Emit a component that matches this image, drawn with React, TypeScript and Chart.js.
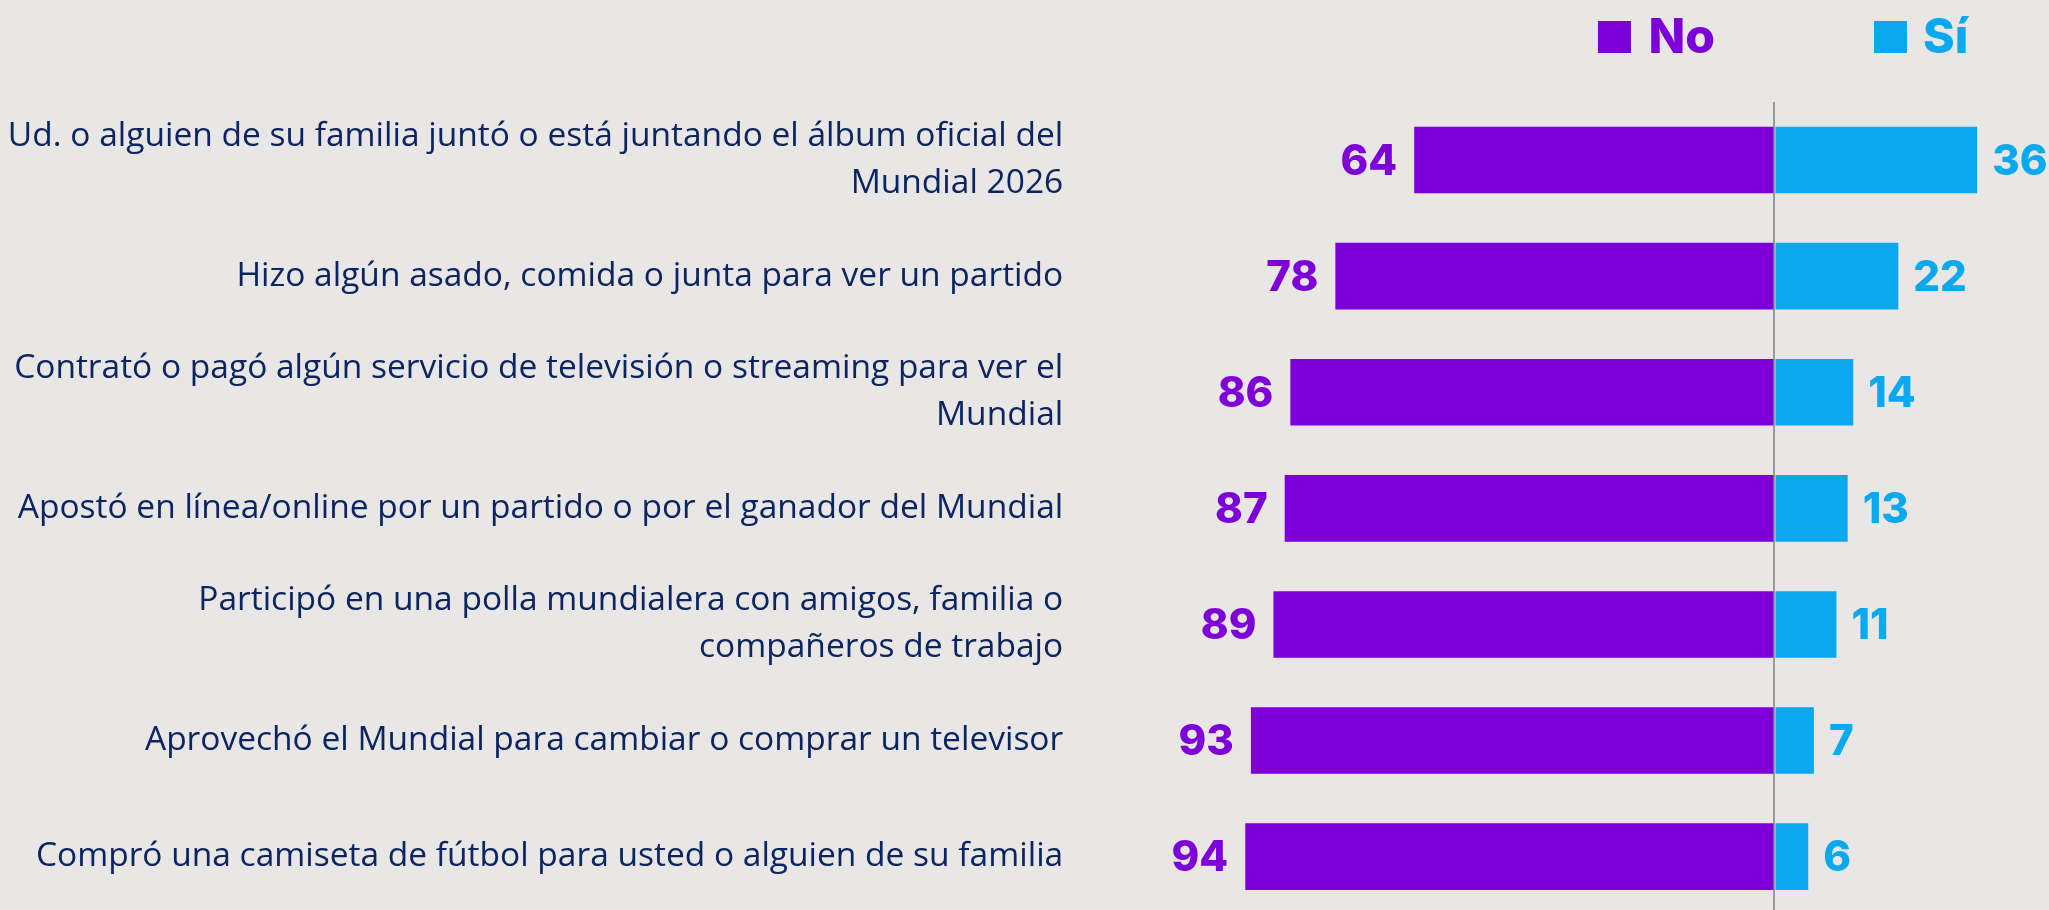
import React, { useEffect, useRef } from 'react';
import { Chart, registerables } from 'chart.js';

Chart.register(...registerables);

const categories: (string | string[])[] = [
  ['Ud. o alguien de su familia juntó o está juntando el álbum oficial del', 'Mundial 2026'],
  'Hizo algún asado, comida o junta para ver un partido',
  ['Contrató o pagó algún servicio de televisión o streaming para ver el', 'Mundial'],
  'Apostó en línea/online por un partido o por el ganador del Mundial',
  ['Participó en una polla mundialera con amigos, familia o', 'compañeros de trabajo'],
  'Aprovechó el Mundial para cambiar o comprar un televisor',
  'Compró una camiseta de fútbol para usted o alguien de su familia',
];
const noValues = [64, 78, 86, 87, 89, 93, 94];
const siValues = [36, 22, 14, 13, 11, 7, 6];
const seriesLabels = ['No', 'Sí'];

const PURPLE = '#7D00D9';
const BLUE = '#0AA8EE';
const NAVY = '#0C2461';
const BG = '#E8E7E5';
const LABEL_FONT = '"Open Sans", sans-serif';
const BOLD_FONT = 'Inter, "Noto Sans", sans-serif';

const valueLabelPlugin = {
  id: 'valueLabels',
  afterDatasetsDraw(chart: any) {
    const ctx = chart.ctx;
    ctx.save();
    ctx.font = `800 42px ${BOLD_FONT}`;
    ctx.textBaseline = 'middle';
    chart.data.datasets.forEach((ds: any, di: number) => {
      const meta = chart.getDatasetMeta(di);
      meta.data.forEach((el: any, i: number) => {
        const v = Math.abs(ds.data[i]);
        ctx.fillStyle = ds.backgroundColor;
        if (di === 0) {
          ctx.textAlign = 'right';
          ctx.fillText(String(v), el.x - 17, el.y + 2);
        } else {
          ctx.textAlign = 'left';
          ctx.fillText(String(v), el.x + 15, el.y + 2);
        }
      });
    });
    ctx.restore();
  },
};

const legendPlugin = {
  id: 'customLegend',
  afterDraw(chart: any) {
    const ctx = chart.ctx;
    const zero = chart.scales.x.getPixelForValue(0);
    const cy = 37;
    const items = [
      { label: seriesLabels[0], color: PURPLE, box: zero - 176.5, text: zero - 126 },
      { label: seriesLabels[1], color: BLUE, box: zero + 99.5, text: zero + 148.5 },
    ];
    ctx.save();
    ctx.font = `800 48px ${BOLD_FONT}`;
    ctx.textBaseline = 'middle';
    ctx.textAlign = 'left';
    items.forEach((it) => {
      ctx.fillStyle = it.color;
      ctx.fillRect(it.box, cy - 16, 33, 32);
      ctx.fillText(it.label, it.text, cy + 2);
    });
    ctx.restore();
  },
};

export default function App() {
  const ref = useRef<HTMLCanvasElement | null>(null);

  useEffect(() => {
    if (!ref.current) return;
    const chart = new Chart(ref.current, {
      type: 'bar',
      data: {
        labels: categories,
        datasets: [
          {
            label: seriesLabels[0],
            data: noValues.map((v) => -v),
            backgroundColor: PURPLE,
            borderWidth: 0,
            categoryPercentage: 0.574,
            barPercentage: 1,
          },
          {
            label: seriesLabels[1],
            data: siValues,
            backgroundColor: BLUE,
            borderWidth: 0,
            categoryPercentage: 0.574,
            barPercentage: 1,
          },
        ],
      },
      options: {
        indexAxis: 'y',
        responsive: false,
        animation: false,
        layout: { padding: { top: 102, bottom: 5.3, left: 0, right: 4.3 } },
        plugins: {
          legend: { display: false },
          tooltip: { enabled: false },
        },
        scales: {
          x: {
            stacked: true,
            min: -110,
            max: 48,
            ticks: { display: false, stepSize: 10 },
            border: { display: false },
            grid: {
              drawTicks: false,
              lineWidth: 2,
              color: (c: any) => (c.tick && c.tick.value === 0 ? '#9B9B9B' : 'rgba(0,0,0,0)'),
            },
          },
          y: {
            stacked: true,
            border: { display: false },
            grid: { display: false, drawTicks: false },
            ticks: {
              color: NAVY,
              padding: 92,
              font: { family: LABEL_FONT, size: 33.5, lineHeight: 47 / 33.5 },
            },
            afterFit: (scale: any) => {
              scale.width = 1155.2;
              scale.paddingTop = 0;
              scale.paddingBottom = 0;
            },
          },
        },
      },
      plugins: [valueLabelPlugin, legendPlugin],
    });
    return () => chart.destroy();
  }, []);

  return (
    <div
      style={{
        position: 'fixed',
        left: 0,
        top: 0,
        width: 2049,
        height: 910,
        overflow: 'hidden',
        background: BG,
      }}
    >
      <canvas ref={ref} width={2049} height={920} style={{ display: 'block', width: 2049, height: 920 }} />
    </div>
  );
}
